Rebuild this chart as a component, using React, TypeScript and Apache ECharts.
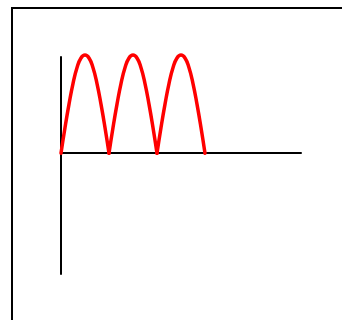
import React, { useEffect, useRef } from "react";
import * as echarts from "echarts";

// x positions (in half-periods) and |sin|-like curve heights
const xValues = [
  0, 0.083, 0.167, 0.25, 0.333, 0.417, 0.5, 0.583, 0.667, 0.75, 0.833, 0.917,
  1, 1.083, 1.167, 1.25, 1.333, 1.417, 1.5, 1.583, 1.667, 1.75, 1.833, 1.917,
  2, 2.083, 2.167, 2.25, 2.333, 2.417, 2.5, 2.583, 2.667, 2.75, 2.833, 2.917, 3,
];
const yValues = [
  0, 0.26, 0.5, 0.71, 0.87, 0.97, 1, 0.97, 0.87, 0.71, 0.5, 0.26,
  0, 0.26, 0.5, 0.71, 0.87, 0.97, 1, 0.97, 0.87, 0.71, 0.5, 0.26,
  0, 0.26, 0.5, 0.71, 0.87, 0.97, 1, 0.97, 0.87, 0.71, 0.5, 0.26, 0,
];
// indices where each arch starts/ends (cusps on the axis)
const archBreaks = [0, 12, 24, 36];
const xRange = [0, 5];
const yRange = [-1.23, 0.98];

export default function App() {
  const ref = useRef<HTMLDivElement>(null);
  useEffect(() => {
    if (!ref.current) return;
    const chart = echarts.init(ref.current, null, { renderer: "svg" });
    const points = xValues.map((x, i) => [x, yValues[i]]);
    const series = archBreaks.slice(0, -1).map((start, k) => ({
      type: "line",
      data: points.slice(start, archBreaks[k + 1] + 1),
      showSymbol: false,
      smooth: 0.5,
      clip: false,
      lineStyle: { color: "#ff0000", width: 3.5, join: "round", cap: "round" },
      z: 5,
    }));
    chart.setOption({
      animation: false,
      backgroundColor: "#ffffff",
      grid: { left: 61, right: 41, top: 57, bottom: 46, containLabel: false },
      xAxis: {
        type: "value",
        min: xRange[0],
        max: xRange[1],
        axisLine: { show: true, onZero: true, lineStyle: { color: "#000", width: 2 } },
        axisTick: { show: false },
        axisLabel: { show: false },
        splitLine: { show: false },
      },
      yAxis: {
        type: "value",
        min: yRange[0],
        max: yRange[1],
        axisLine: { show: true, onZero: false, lineStyle: { color: "#000", width: 2 } },
        axisTick: { show: false },
        axisLabel: { show: false },
        splitLine: { show: false },
      },
      graphic: [
        {
          type: "rect",
          shape: { x: 12, y: 8, width: 500, height: 500 },
          style: { fill: "none", stroke: "#000", lineWidth: 2 },
          silent: true,
        },
      ],
      series,
    });
    return () => chart.dispose();
  }, []);
  return (
    <div
      ref={ref}
      style={{ position: "fixed", left: 0, top: 0, width: 342, height: 320 }}
    />
  );
}
